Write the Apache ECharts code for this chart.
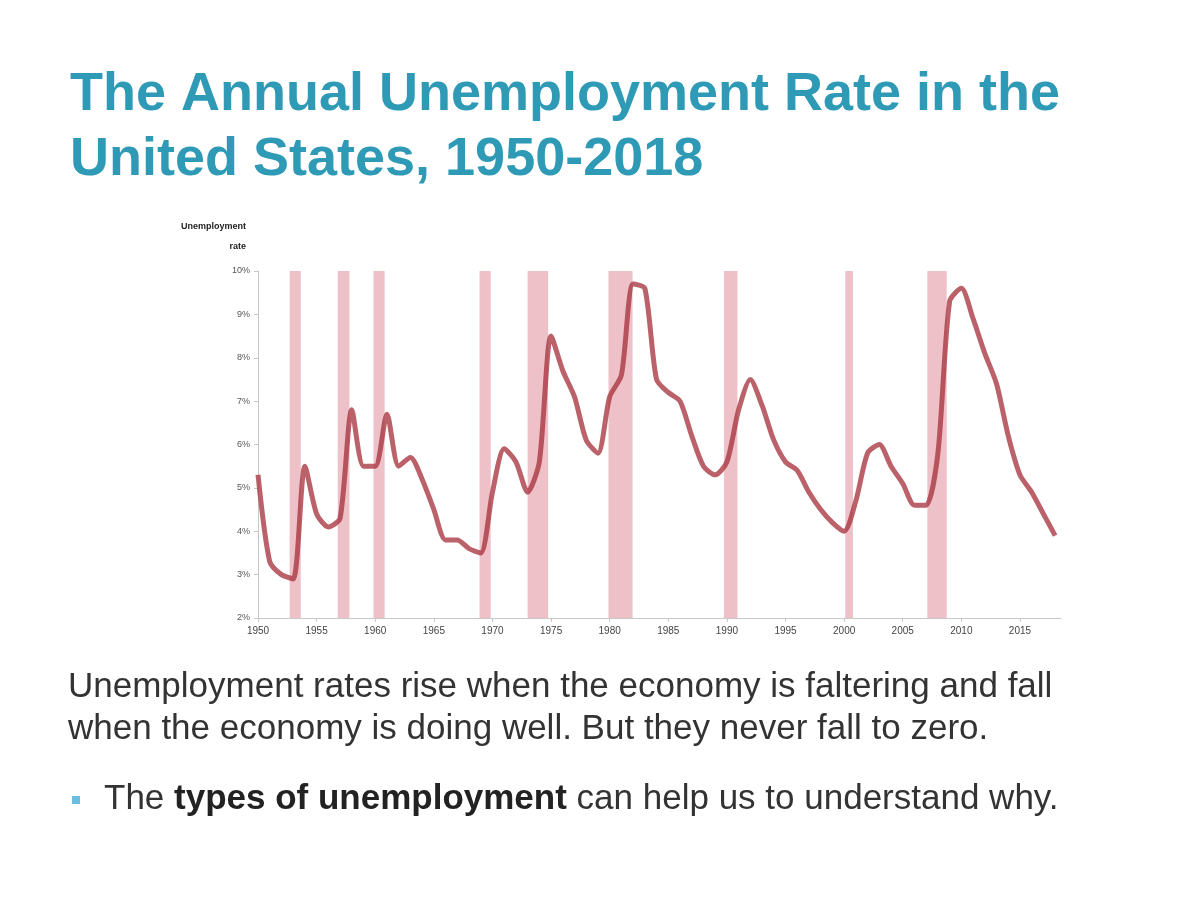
<!DOCTYPE html>
<html>
<head>
<meta charset="utf-8">
<script src="https://cdn.jsdelivr.net/npm/echarts@6/dist/echarts.min.js"></script>
<style>
html,body{margin:0;padding:0;background:#fff;}
#chart{width:1180px;height:911px;}
</style>
</head>
<body>
<div id="chart"></div>
<script>
// Annual unemployment rate (%), 1950-2018
var years = [];
for (var y = 1950; y <= 2018; y++) years.push(y);
var rates = [5.3,3.3,3.0,2.9,5.5,4.4,4.1,4.3,6.8,5.5,
             5.5,6.7,5.5,5.7,5.2,4.5,3.8,3.8,3.6,3.5,
             4.9,5.9,5.6,4.9,5.6,8.5,7.7,7.1,6.1,5.8,
             7.1,7.6,9.7,9.6,7.5,7.2,7.0,6.2,5.5,5.3,
             5.6,6.8,7.5,6.9,6.1,5.6,5.4,4.9,4.5,4.2,
             4.0,4.7,5.8,6.0,5.5,5.1,4.6,4.6,5.8,9.3,
             9.6,8.9,8.1,7.4,6.2,5.3,4.9,4.4,3.9];
// Recession periods (start, end) in years, as drawn
var recStart = [1952.7,1956.8,1959.85,1968.9,1973.0,1979.9,1989.75,2000.1,2007.1];
var recEnd   = [1953.65,1957.8,1960.8,1969.85,1974.75,1981.95,1990.9,2000.75,2008.75];
var yTicks = [2,3,4,5,6,7,8,9,10];
var xTicks = [1950,1955,1960,1965,1970,1975,1980,1985,1990,1995,2000,2005,2010,2015];

var lineData = years.map(function(yr,i){return [yr, rates[i]];});
var areas = recStart.map(function(s,i){return [{xAxis:s},{xAxis:recEnd[i]}];});

var chart = echarts.init(document.getElementById('chart'));
chart.setOption({
  animation:false,
  backgroundColor:'#ffffff',
  grid:{left:258, top:271, width:803, height:347, containLabel:false},
  xAxis:{
    type:'value', min:1950, max:2018.5, interval:5,
    axisLine:{show:true, lineStyle:{color:'#c8c8c8', width:1}},
    axisTick:{show:true, length:4, lineStyle:{color:'#c8c8c8'}},
    splitLine:{show:false},
    axisLabel:{show:true, color:'#444', fontSize:10, fontFamily:'Liberation Sans', margin:8,
      showMaxLabel:false,
      formatter:function(v){return xTicks.indexOf(v)>=0 ? String(v) : '';}}
  },
  yAxis:{
    type:'value', min:2, max:10, interval:1,
    axisLine:{show:true, lineStyle:{color:'#c8c8c8', width:1}},
    axisTick:{show:true, length:4, lineStyle:{color:'#c8c8c8'}},
    splitLine:{show:false},
    axisLabel:{color:'#555', fontSize:9, fontFamily:'Liberation Sans', margin:8,
      formatter:function(v){return yTicks.indexOf(v)>=0 ? v+'%' : '';}}
  },
  series:[{
    type:'line', data:lineData, smooth:0.25, symbol:'none',
    lineStyle:{color:'#a8343f', width:5, opacity:0.78},
    markArea:{silent:true, itemStyle:{color:'rgba(222,130,145,0.5)'}, data:areas},
    z:3
  }],
  graphic:[
    {type:'text', left:70, top:68, style:{text:'The Annual Unemployment Rate in the', font:'bold 54px "Liberation Sans"', fill:'#2e9ab5'}},
    {type:'text', left:70, top:133, style:{text:'United States, 1950-2018', font:'bold 54px "Liberation Sans"', fill:'#2e9ab5'}},
    {type:'text', right:1180-246, top:222, style:{text:'Unemployment', font:'bold 9px "Liberation Sans"', fill:'#222', align:'right'}},
    {type:'text', right:1180-246, top:242, style:{text:'rate', font:'bold 9px "Liberation Sans"', fill:'#222', align:'right'}},
    {type:'text', left:68, top:670, style:{text:'Unemployment rates rise when the economy is faltering and fall', font:'35px "Liberation Sans"', fill:'#333'}},
    {type:'text', left:68, top:712, style:{text:'when the economy is doing well. But they never fall to zero.', font:'35px "Liberation Sans"', fill:'#333'}},
    {type:'rect', left:72, top:796, shape:{width:8, height:8}, style:{fill:'#6cbcdc'}},
    {type:'text', left:104, top:782, style:{
      text:'{n|The }{b|types of unemployment}{n| can help us to understand why.}',
      rich:{
        n:{font:'35px "Liberation Sans"', fill:'#333'},
        b:{font:'bold 35px "Liberation Sans"', fill:'#222'}
      }}}
  ]
});
</script>
</body>
</html>
